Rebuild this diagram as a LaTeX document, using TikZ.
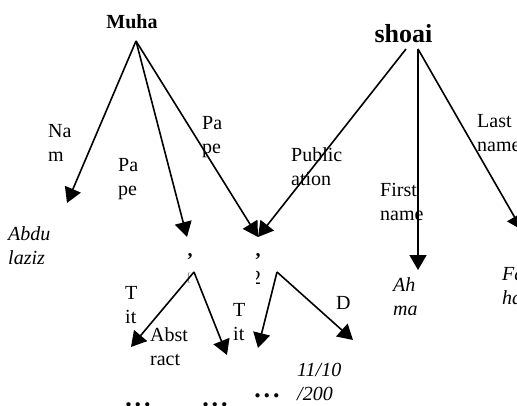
\documentclass[tikz,border=0pt]{standalone}
\usepackage{fontspec}
\setmainfont{Liberation Serif}
\usetikzlibrary{arrows.meta}
\newcommand{\twol}[2]{#1\strut\\#2\strut}
\begin{document}
\begin{tikzpicture}[x=1pt,y=-1pt,
  arr/.style={line width=1.6pt,-{Triangle[length=15pt,width=17pt]}},
  lbl/.style={font=\fontsize{20}{24}\selectfont,align=left,anchor=west,inner sep=0pt},
  val/.style={lbl,font=\fontsize{20}{24}\selectfont\itshape},
  dotsx/.style={font=\fontsize{26}{30}\selectfont\bfseries,inner sep=0pt,anchor=base}]
\useasboundingbox (0,0) rectangle (517,405);
\clip (0,0) rectangle (517,405);
% roots
\node[font=\fontsize{20}{24}\selectfont\bfseries,anchor=base,inner sep=0pt] (muha) at (132,28) {Muha};
\node[font=\fontsize{26}{30}\selectfont\bfseries,anchor=base,inner sep=0pt] (shoai) at (403.5,42) {shoai};
\coordinate (mA) at (136,41);
\coordinate (sA) at (406,49);
\coordinate (sB) at (418,49);
% paper nodes (clipped text fragments)
\node[font=\fontsize{20}{24}\selectfont\bfseries,anchor=base,inner sep=0pt] (p1) at (190,256) {,};
\node[font=\fontsize{12}{14}\selectfont,text=gray,anchor=center,inner sep=0pt] (p1b) at (189,278) {[};
\node[font=\fontsize{20}{24}\selectfont\bfseries,anchor=base,inner sep=0pt] (p2) at (258,256) {,};
\begin{scope}
\clip (256,268) rectangle (264,290);
\node[font=\fontsize{20}{24}\selectfont,anchor=center,inner sep=0pt] (p2b) at (256,278) {2};
\end{scope}
\coordinate (p1A) at (194,272);
\coordinate (p2A) at (277,272);
% arrow tips
\coordinate (tName) at (67,203);
\coordinate (tP1) at (187,237);
\coordinate (tP2) at (258,237);
\coordinate (tFirst) at (418,270);
\coordinate (tLast) at (522,230);
\coordinate (tTit1) at (131,347);
\coordinate (tAbs) at (227,355);
\coordinate (tTit2) at (258,348);
\coordinate (tDate) at (353,340);
% edge labels
\node[lbl] (lNa) at (48,145) {\twol{Na}{m}};
\node[lbl] (lPa1) at (118,179) {\twol{Pa}{pe}};
\node[lbl] (lPa2) at (202,137) {\twol{Pa}{pe}};
\node[lbl] (lPub) at (291,169) {\twol{Public}{ation}};
\node[lbl] (lFirst) at (380,204) {\twol{First}{name}};
\node[lbl] (lLast) at (477,135) {\twol{Last}{name}};
\node[lbl] (lT1) at (125,307) {\twol{T}{it}};
\node[lbl] (lAbs) at (150,349) {\twol{Abst}{ract}};
\node[lbl] (lT2) at (233,324) {\twol{T}{it}};
\node[lbl] (lD) at (336,303) {D};
% values
\node[val] (vAbdu) at (8,248) {\twol{Abdu}{laziz}};
\node[val] (vAh) at (393,299) {\twol{Ah}{ma}};
\node[val] (vFa) at (502,288) {\twol{Fa}{ha}};
\node[val] (vDate) at (297,383.5) {\twol{11/10}{/200}};
\node[dotsx] (d1) at (138,406) {.\hspace{3pt}.\hspace{3pt}.};
\node[dotsx] (d2) at (215,406) {.\hspace{3pt}.\hspace{3pt}.};
\node[dotsx] (d3) at (267,397) {.\hspace{3pt}.\hspace{3pt}.};
% connectors
\draw[arr] (mA) -- (tName);
\draw[arr] (mA) -- (tP1);
\draw[arr] (mA) -- (tP2);
\draw[arr] (sA) -- (tP2);
\draw[arr] (sB) -- (tFirst);
\draw[arr] (sB) -- (tLast);
\draw[arr] (p1A) -- (tTit1);
\draw[arr] (p1A) -- (tAbs);
\draw[arr] (p2A) -- (tTit2);
\draw[arr] (p2A) -- (tDate);
\end{tikzpicture}
\end{document}
